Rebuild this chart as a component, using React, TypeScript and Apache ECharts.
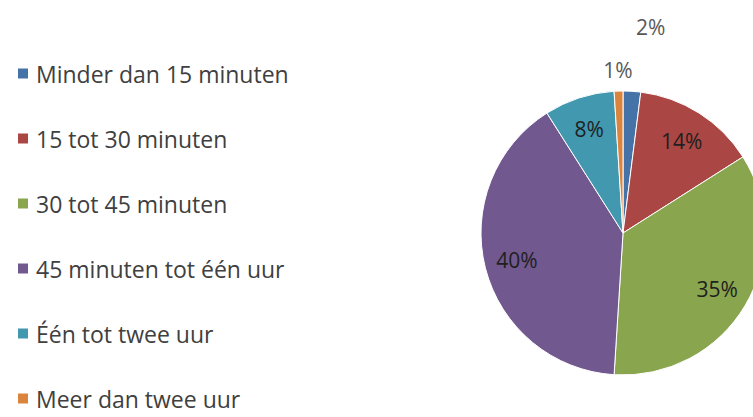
import React, { useEffect, useRef } from "react";
import * as echarts from "echarts";

const categories = [
  "Minder dan 15 minuten",
  "15 tot 30 minuten",
  "30 tot 45 minuten",
  "45 minuten tot één uur",
  "Één tot twee uur",
  "Meer dan twee uur",
];
const values = [2, 14, 35, 40, 8, 1];
const colors = ["#4572A7", "#AA4643", "#89A54E", "#71588F", "#4198AF", "#DB843D"];

export default function App() {
  const ref = useRef<HTMLDivElement>(null);
  useEffect(() => {
    document.body.style.margin = "0";
    const chart = echarts.init(ref.current!, undefined, { renderer: "svg" });
    const font = "'Open Sans', Lato, sans-serif";
    const cx = 623;
    const cy = 233;
    const R = 142;
    const outsideLen: Record<number, number> = { 0: 64, 5: 21 };
    const labelData = values.map((v, i) => {
      const small = v < 5;
      return {
        value: v,
        name: categories[i],
        label: small
          ? { position: "outside", color: "#595959", distanceToLabelLine: 0 }
          : { position: "inside", color: "#1f1f1f" },
        labelLine: small
          ? { show: false, length: outsideLen[i] ?? 30, length2: 0 }
          : { show: false },
      };
    });
    chart.setOption({
      animation: false,
      backgroundColor: "#ffffff",
      color: colors,
      legend: {
        orient: "vertical",
        left: 16,
        top: 62,
        height: 400,
        padding: 0,
        itemWidth: 12,
        itemHeight: 12,
        itemGap: 42,
        icon: "rect",
        selectedMode: false,
        data: categories,
        textStyle: {
          fontFamily: font,
          fontSize: 23,
          color: "#404040",
          padding: [0, 0, 0, 2],
        },
      },
      series: [
        {
          type: "pie",
          center: [cx, cy],
          radius: R,
          startAngle: 90,
          clockwise: true,
          silent: true,
          label: { show: false },
          labelLine: { show: false },
          itemStyle: { borderColor: "#ffffff", borderWidth: 1 },
          data: values.map((v, i) => ({ value: v, name: categories[i] })),
        },
        {
          type: "pie",
          center: [cx, cy],
          radius: [R / 2, R],
          startAngle: 90,
          clockwise: true,
          silent: true,
          avoidLabelOverlap: false,
          itemStyle: { color: "transparent" },
          label: {
            show: true,
            formatter: "{c}%",
            fontFamily: font,
            fontSize: 21,
          },
          labelLayout: (p: any) =>
            p.dataIndex === 5 ? { align: "center" } : {},
          data: labelData,
        },
      ],
    });
    return () => chart.dispose();
  }, []);
  return (
    <div
      ref={ref}
      style={{ position: "fixed", left: 0, top: 0, width: 753, height: 417 }}
    />
  );
}
